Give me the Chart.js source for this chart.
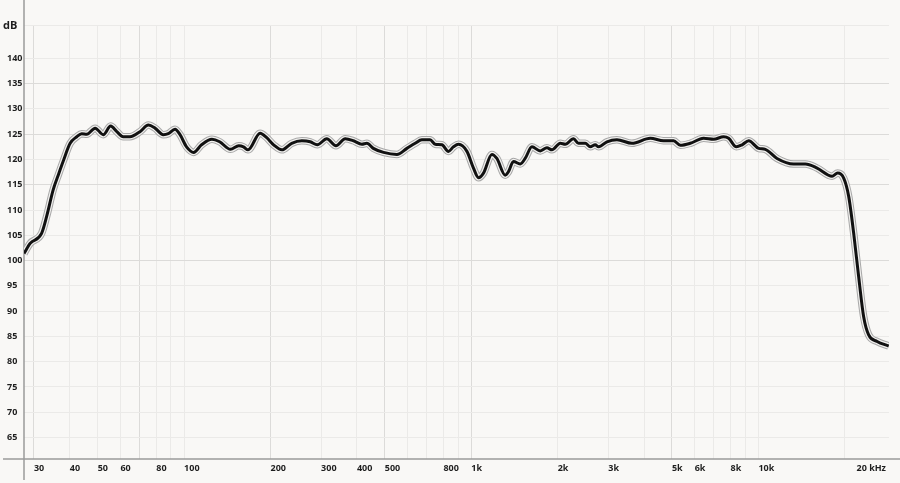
<!DOCTYPE html>
<html>
<head>
<meta charset="utf-8">
<script src="https://cdn.jsdelivr.net/npm/chart.js@4.4.1/dist/chart.umd.min.js"></script>
<style>
	html, body { margin: 0; padding: 0; background: #f9f8f6; }
	canvas { display: block; }
</style>
</head>
<body>
<canvas id="fr" width="900" height="483"></canvas>
<script>
// frequency (Hz) and level (dB)
var freqs = [
	27.7, 29.1, 31.9, 33.2, 35.0, 36.5, 37.9, 40.1, 42.3, 44.0, 45.8, 49.0, 52.3, 55.5, 58.3, 61.4,
	64.8, 70.2, 75.1, 79.2, 84.6, 88.1, 93.0, 96.8, 102, 108, 115, 125, 133, 145, 155,
	161, 167, 184, 194, 205, 219, 237, 257, 275, 291, 314, 338, 364, 389, 416, 433, 456, 495,
	551, 597, 638, 673, 719, 749, 790, 833, 867, 903,
	966, 1018, 1060, 1103, 1180, 1228, 1313, 1348, 1403, 1481, 1541, 1627, 1739, 1835, 1910,
	2042, 2125, 2271, 2364, 2495, 2597, 2703, 2776, 2969, 3216, 3627, 4203, 4674, 5067,
	5346, 5793, 6444, 6984, 7566, 7878, 8379, 8772, 9249, 10020, 10572, 11610, 13263, 14574,
	16011, 18051, 18885, 19818, 20628, 21471, 22347, 23259, 24210, 25908, 28434
];
var levels = [
	101.4, 103.4, 105.4, 108.7, 114.0, 117.0, 119.6, 123.2, 124.5, 125.1, 125.0, 126.2, 124.9, 126.6, 125.5, 124.5,
	124.5, 125.5, 126.8, 126.2, 124.9, 125.1, 126.0, 124.9, 122.5, 121.4, 122.9, 124.0, 123.5, 122.0, 122.7,
	122.5, 121.9, 125.2, 124.3, 122.9, 121.9, 123.2, 123.7, 123.5, 122.9, 124.1, 122.7, 124.1, 123.7, 123.0, 123.2, 122.2, 121.4,
	121.0, 122.2, 123.2, 123.9, 123.9, 123.0, 122.9, 121.6, 122.5, 123.0,
	121.6, 118.3, 116.4, 117.3, 121.0, 120.2, 116.9, 117.6, 119.6, 119.1, 120.2, 122.5, 121.7, 122.3, 121.9,
	123.2, 123.0, 124.1, 123.2, 123.2, 122.5, 122.9, 122.5, 123.5, 123.9, 123.2, 124.2, 123.7, 123.7,
	122.8, 123.2, 124.2, 124.0, 124.5, 124.2, 122.5, 122.9, 123.7, 122.2, 122.0, 120.2, 119.1, 119.1,
	118.3, 116.7, 117.3, 116.3, 112.7, 105.4, 96.8, 88.9, 85.3, 84.0, 83.1
];

var yTicks = [65, 70, 75, 80, 85, 90, 95, 100, 105, 110, 115, 120, 125, 130, 135, 140];
var xGrid = [30, 40, 50, 60, 70, 80, 90, 100, 200, 300, 400, 500, 600, 700, 800, 900,
	1000, 2000, 3000, 4000, 5000, 6000, 7000, 8000, 9000, 10000, 20000];
var xLabelVals = [30, 40, 50, 60, 80, 100, 200, 300, 400, 500, 800, 1000, 2000, 3000, 5000, 6000, 8000, 10000, 20000];
var xLabelText = ['30', '40', '50', '60', '80', '100', '200', '300', '400', '500', '800', '1k', '2k', '3k', '5k', '6k', '8k', '10k', '     20 kHz'];

var darkX = [30, 70, 200, 500, 1000, 5000];
var darkY = [100, 115, 125, 135];

var points = freqs.map(function (f, i) { return { x: f, y: levels[i] }; });
var labelFont = { family: 'Open Sans', size: 9, weight: 'bold' };

var decor = {
	id: 'decor',
	beforeDatasetsDraw: function (chart) {
		var ctx = chart.ctx, a = chart.chartArea;
		ctx.save();
		ctx.strokeStyle = '#9b9b9b';
		ctx.lineWidth = 1.5;
		ctx.beginPath();
		ctx.moveTo(a.left, 0);
		ctx.lineTo(a.left, chart.height - 3);
		ctx.moveTo(3, a.bottom);
		ctx.lineTo(chart.width, a.bottom);
		ctx.stroke();
		ctx.fillStyle = '#1e1e1e';
		ctx.font = 'bold 11px "Open Sans"';
		ctx.textBaseline = 'middle';
		ctx.fillText('dB', 3, 26);
		ctx.restore();
	}
};

function line(color, width, order) {
	return {
		data: points,
		borderColor: color,
		borderWidth: width,
		pointRadius: 0,
		cubicInterpolationMode: 'monotone',
		fill: false,
		order: order
	};
}

new Chart(document.getElementById('fr'), {
	type: 'line',
	data: {
		datasets: [
			line('#111111', 3, 1),
			line('#f1f0ee', 5.5, 2),
			line('#a8a8a8', 7.5, 3)
		]
	},
	options: {
		responsive: false,
		animation: false,
		layout: { padding: { left: 7, top: 25, right: 11, bottom: 0 } },
		plugins: { legend: { display: false }, tooltip: { enabled: false } },
		scales: {
			x: {
				type: 'logarithmic',
				min: 27.7,
				max: 28500,
				afterBuildTicks: function (s) {
					s.ticks = xGrid.map(function (v) { return { value: v }; });
				},
				afterFit: function (s) { s.height = 24; },
				border: { display: false },
				grid: {
					drawTicks: false,
					color: function (c) {
						return darkX.indexOf(c.tick && c.tick.value) >= 0 ? '#dcdbd9' : '#ebeae8';
					}
				},
				ticks: {
					autoSkip: false,
					maxRotation: 0,
					align: 'start',
					padding: 4,
					color: '#1e1e1e',
					font: labelFont,
					callback: function (v) {
						var i = xLabelVals.indexOf(v);
						return i >= 0 ? xLabelText[i] : '';
					}
				}
			},
			y: {
				min: 60.75,
				max: 146.6,
				afterBuildTicks: function (s) {
					s.ticks = yTicks.concat([146.6]).map(function (v) { return { value: v }; });
				},
				afterFit: function (s) { s.width = 17; },
				border: { display: false },
				grid: {
					drawTicks: false,
					color: function (c) {
						return darkY.indexOf(c.tick && c.tick.value) >= 0 ? '#dcdbd9' : '#ebeae8';
					}
				},
				ticks: {
					crossAlign: 'far',
					padding: 0,
					color: '#1e1e1e',
					font: labelFont,
					callback: function (v) {
						return yTicks.indexOf(v) >= 0 ? String(v) : '';
					}
				}
			}
		}
	},
	plugins: [decor]
});
</script>
</body>
</html>
